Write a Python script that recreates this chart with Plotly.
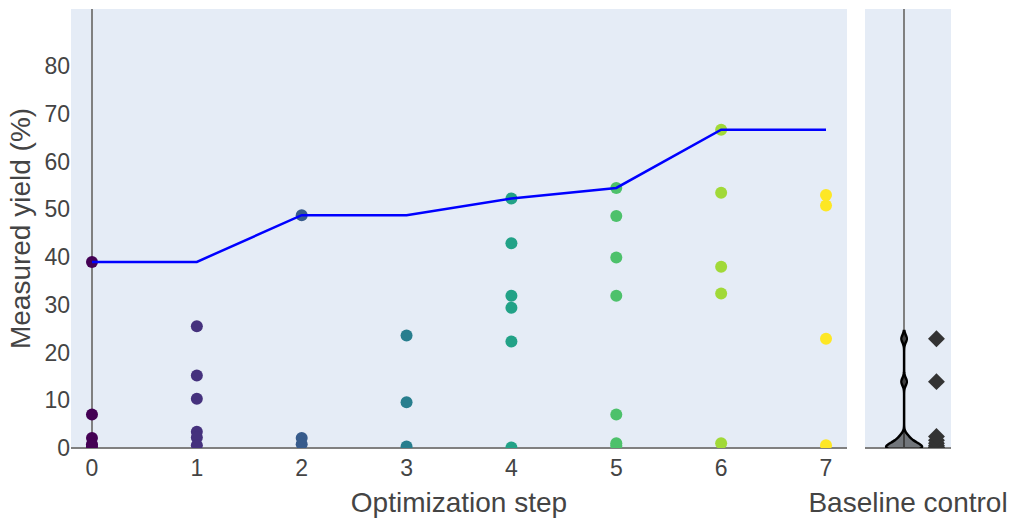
import plotly.graph_objects as go
from plotly.colors import sample_colorscale

# ---- data ----
steps = [0, 1, 2, 3, 4, 5, 6, 7]
yields_by_step = [
    [39.0, 7.0, 2.1, 0.8, 0.3],
    [25.5, 15.2, 10.3, 3.4, 2.2, 0.6],
    [48.8, 2.1, 0.8],
    [23.6, 9.6, 0.3],
    [52.3, 42.9, 31.9, 29.4, 22.3, 0.1],
    [54.5, 48.6, 39.9, 31.9, 7.0, 1.0, 0.5],
    [66.7, 53.5, 38.0, 32.4, 1.0],
    [53.0, 50.8, 22.9, 0.6],
]
best_so_far = [39.0, 39.0, 48.8, 48.8, 52.3, 54.5, 66.7, 66.7]
baseline_values = [22.9, 13.9, 2.4, 1.6, 1.0, 0.5, 0.2, 0.0, 0.0, 0.0, 0.0]
y_ticks = [0, 10, 20, 30, 40, 50, 60, 70, 80]

FONT = "Liberation Sans, Arial, sans-serif"
colors = sample_colorscale("Viridis", [s / 7 for s in steps])

fig = go.Figure()

for s, vals, c in zip(steps, yields_by_step, colors):
    fig.add_trace(go.Scatter(
        x=[s] * len(vals), y=vals, mode="markers",
        marker=dict(color=c, size=12, line=dict(width=0)),
        showlegend=False, xaxis="x", yaxis="y",
    ))

fig.add_trace(go.Scatter(
    x=steps, y=best_so_far, mode="lines",
    line=dict(color="#0000FF", width=2.5),
    showlegend=False, xaxis="x", yaxis="y",
))

fig.add_trace(go.Violin(
    x0=0, y=baseline_values, xaxis="x2", yaxis="y",
    line=dict(color="black", width=2.5),
    fillcolor="rgba(0,0,0,0.5)",
    points="all", pointpos=1.8, jitter=0,
    marker=dict(symbol="diamond", size=13, color="#333333"),
    bandwidth=0.8, width=0.46,
    showlegend=False,
))

fig.update_layout(
    width=1011, height=518,
    margin=dict(l=71, r=60, t=9, b=70, autoexpand=False),
    plot_bgcolor="#E5ECF6", paper_bgcolor="white",
    font=dict(family=FONT, color="#444444", size=23),
    xaxis=dict(
        domain=[0, 0.8818], range=[-0.2, 7.2],
        tickvals=steps, showgrid=False, automargin=False,
        ticklabelstandoff=4,
        zeroline=True, zerolinecolor="#808080", zerolinewidth=2,
        title=dict(text="Optimization step", font=dict(size=28), standoff=13),
        tickfont=dict(size=23),
    ),
    xaxis2=dict(
        domain=[0.9023, 1.0], range=[-0.5, 0.6], automargin=False,
        showticklabels=False, showgrid=False,
        zeroline=True, zerolinecolor="#808080", zerolinewidth=2,
        title=dict(text="Baseline control", font=dict(size=28), standoff=44),
    ),
    yaxis=dict(
        range=[0, 92], tickvals=y_ticks, showgrid=False, automargin=False,
        zeroline=True, zerolinecolor="#808080", zerolinewidth=2,
        title=dict(text="Measured yield (%)", font=dict(size=28), standoff=5),
        tickfont=dict(size=23),
    ),
)

fig.write_html(
    "out.html",
    config={"displayModeBar": False},
    post_script="document.body.style.margin='0px';document.body.style.overflow='hidden';",
)
